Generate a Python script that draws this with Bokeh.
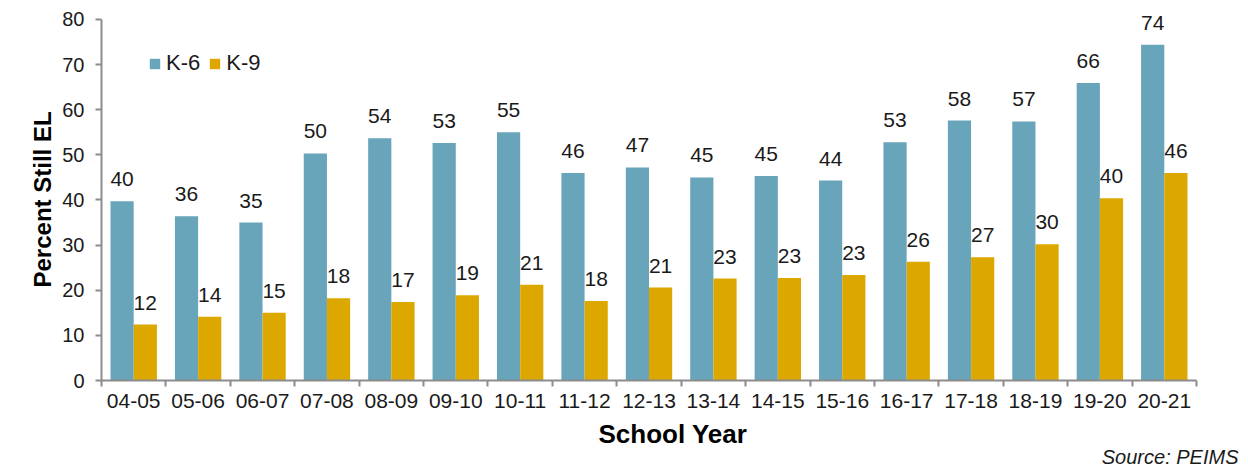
from bokeh.plotting import figure
from bokeh.models import ColumnDataSource, FixedTicker, Title
from bokeh.transform import dodge
from bokeh.core.properties import value
from bokeh.embed import file_html
from bokeh.resources import INLINE

years = ["04-05", "05-06", "06-07", "07-08", "08-09", "09-10", "10-11", "11-12",
         "12-13", "13-14", "14-15", "15-16", "16-17", "17-18", "18-19", "19-20", "20-21"]
k6 = [39.7, 36.4, 35.0, 50.3, 53.7, 52.6, 55.0, 46.0, 47.2, 45.0, 45.3, 44.3, 52.8, 57.6, 57.4, 65.9, 74.4]
k9 = [12.4, 14.1, 15.0, 18.2, 17.4, 18.9, 21.2, 17.6, 20.6, 22.6, 22.7, 23.4, 26.3, 27.3, 30.2, 40.4, 46.0]
y_ticks = [0, 10, 20, 30, 40, 50, 60, 70, 80]

K6_COLOR = "#68a4ba"
K9_COLOR = "#dca800"
AXIS_COLOR = "#8c8c8c"
TEXT_COLOR = "#1a1a1a"
FONT = "Liberation Sans"

xpos = list(range(len(years)))
src = ColumnDataSource(dict(
    x=xpos, k6=k6, k9=k9,
    k6_lab=[f"{v:.0f}" for v in k6],
    k9_lab=[f"{v:.0f}" for v in k9],
))

# y range headroom above 80 so the top data label is not clipped (axis bounded at 0..80)
p = figure(width=1248, height=474, output_backend="svg", toolbar_location=None,
           x_range=(-0.5, len(years) - 0.5), y_range=(0, 84.2),
           min_border_left=101, min_border_right=52, min_border_top=0, min_border_bottom=94)
p.outline_line_color = None
p.grid.visible = False
p.background_fill_color = "white"
p.border_fill_color = "white"

bw = 0.36
p.vbar(x=dodge("x", -0.18, range=p.x_range), top="k6", width=bw, source=src,
       fill_color=K6_COLOR, line_color=None, legend_label="K-6")
p.vbar(x=dodge("x", 0.18, range=p.x_range), top="k9", width=bw, source=src,
       fill_color=K9_COLOR, line_color=None, legend_label="K-9")

p.text(x=dodge("x", -0.18, range=p.x_range), y="k6", text="k6_lab", source=src,
       text_align="center", text_baseline="alphabetic", y_offset=-22,
       text_font=value(FONT), text_font_size="21px", text_color=TEXT_COLOR)
p.text(x=dodge("x", 0.18, range=p.x_range), y="k9", text="k9_lab", source=src,
       text_align="center", text_baseline="alphabetic", y_offset=-22,
       text_font=value(FONT), text_font_size="21px", text_color=TEXT_COLOR)

# x axis: labels at centers, ticks at boundaries
xa = p.xaxis[0]
xa.ticker = FixedTicker(ticks=xpos, minor_ticks=[i - 0.5 for i in range(len(years) + 1)])
xa.major_label_overrides = {i: y for i, y in enumerate(years)}
xa.major_tick_out = 0
xa.major_tick_in = 0
xa.major_tick_line_color = None
xa.minor_tick_out = 6
xa.minor_tick_in = 0
xa.minor_tick_line_color = AXIS_COLOR
xa.minor_tick_line_width = 2
xa.axis_line_color = AXIS_COLOR
xa.axis_line_width = 2
xa.major_label_text_font = FONT
xa.major_label_text_font_size = "21px"
xa.major_label_text_color = TEXT_COLOR
xa.major_label_standoff = 7

ya = p.yaxis[0]
ya.ticker = FixedTicker(ticks=y_ticks)
ya.bounds = (0, 80)
ya.minor_tick_line_color = None
ya.major_tick_out = 6
ya.major_tick_in = 0
ya.major_tick_line_color = AXIS_COLOR
ya.major_tick_line_width = 2
ya.axis_line_color = AXIS_COLOR
ya.axis_line_width = 2
ya.major_label_text_font = FONT
ya.major_label_text_font_size = "20px"
ya.major_label_text_color = TEXT_COLOR
ya.major_label_standoff = 11

# axis titles as Titles so they can be offset like the reference
ytitle = Title(text="Percent Still EL", align="left", text_font=FONT,
               text_font_size="24px", text_font_style="bold", text_color="#000000",
               standoff=8, offset=93)
p.add_layout(ytitle, "left")

xtitle = Title(text="School Year", align="left", text_font=FONT,
               text_font_size="26px", text_font_style="bold", text_color="#000000",
               standoff=12, offset=497)
p.add_layout(xtitle, "below")

src_title = Title(text="Source: PEIMS", align="right", text_font=FONT,
                  text_font_size="20px", text_font_style="italic",
                  text_color=TEXT_COLOR, standoff=-22, offset=-42)
p.add_layout(src_title, "below")

lg = p.legend[0]
lg.orientation = "horizontal"
lg.location = (47, 304)
lg.padding = 0
lg.margin = 0
lg.spacing = 8
lg.border_line_color = None
lg.background_fill_alpha = 0
lg.glyph_width = 13
lg.glyph_height = 13
lg.label_standoff = 5
lg.label_text_font = FONT
lg.label_text_font_size = "22px"
lg.label_text_color = TEXT_COLOR

open("out.html", "w").write(file_html(p, INLINE))
